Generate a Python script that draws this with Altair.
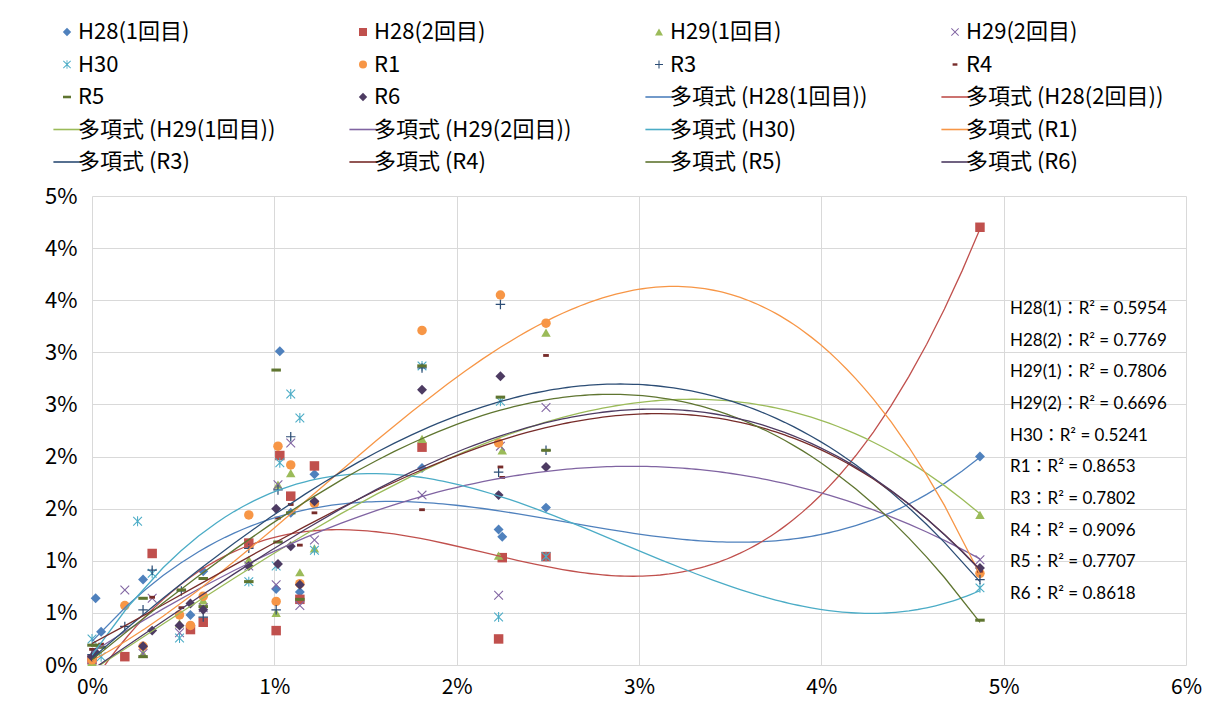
import altair as alt
import pandas as pd

# ---------------- data (values in %) ----------------
series = ["H28(1回目)", "H28(2回目)", "H29(1回目)", "H29(2回目)", "H30",
          "R1", "R3", "R4", "R5", "R6"]
colors = ["#4F81BD", "#C0504D", "#9BBB59", "#8064A2", "#4BACC6",
          "#F79646", "#2C4D75", "#772C2A", "#5F7530", "#4D3B62"]

h28_1_x = [0.00, 0.02, 0.05, 0.28, 0.54, 0.61, 1.01, 1.03, 1.09, 1.14, 1.22, 1.81, 2.23, 2.25, 2.49, 4.87]
h28_1_y = [0.05, 0.64, 0.32, 0.82, 0.48, 0.90, 0.73, 3.01, 1.46, 0.70, 1.83, 1.89, 1.30, 1.23, 1.51, 2.00]

h28_2_x = [0.00, 0.18, 0.33, 0.54, 0.61, 0.86, 1.01, 1.03, 1.09, 1.14, 1.22, 1.81, 2.23, 2.25, 2.49, 4.87]
h28_2_y = [0.05, 0.08, 1.07, 0.34, 0.41, 1.17, 0.33, 2.01, 1.62, 0.63, 1.91, 2.09, 0.25, 1.03, 1.04, 4.20]

h29_1_x = [0.00, 0.28, 0.48, 0.61, 0.86, 1.01, 1.02, 1.09, 1.14, 1.22, 1.81, 2.23, 2.25, 2.49, 4.87]
h29_1_y = [0.03, 0.11, 0.40, 0.62, 1.01, 0.50, 1.73, 1.84, 0.89, 1.12, 2.17, 1.05, 2.06, 3.19, 1.44]

h29_2_x = [0.00, 0.18, 0.28, 0.33, 0.48, 0.61, 0.86, 1.01, 1.02, 1.09, 1.14, 1.22, 1.81, 2.23, 2.24, 2.49, 4.87]
h29_2_y = [0.05, 0.72, 0.11, 0.64, 0.31, 0.55, 0.95, 0.77, 1.73, 2.13, 0.57, 1.20, 1.63, 0.67, 2.10, 2.47, 1.01]

h30_x = [0.00, 0.05, 0.25, 0.33, 0.48, 0.86, 1.01, 1.03, 1.09, 1.14, 1.22, 1.81, 2.23, 2.24, 2.49, 4.87]
h30_y = [0.25, 0.08, 1.38, 0.88, 0.26, 0.80, 0.95, 1.94, 2.60, 2.37, 1.10, 2.87, 0.46, 2.53, 1.04, 0.74]

r1_x = [0.00, 0.18, 0.28, 0.48, 0.54, 0.61, 0.86, 1.01, 1.02, 1.09, 1.14, 1.22, 1.81, 2.23, 2.24, 2.49, 4.87]
r1_y = [0.05, 0.57, 0.18, 0.48, 0.38, 0.66, 1.44, 0.61, 2.10, 1.92, 0.78, 1.55, 3.21, 2.13, 3.55, 3.28, 0.88]

r3_x = [0.00, 0.18, 0.28, 0.33, 0.49, 0.61, 0.86, 1.01, 1.02, 1.09, 1.81, 2.23, 2.24, 2.49, 4.87]
r3_y = [0.10, 0.37, 0.53, 0.91, 0.71, 0.46, 1.12, 0.53, 1.68, 2.19, 2.85, 1.85, 3.46, 2.06, 0.82]

r4_x = [0.00, 0.05, 0.33, 0.49, 1.02, 1.09, 1.14, 1.22, 1.81, 2.24, 2.25, 2.49, 4.87]
r4_y = [0.15, 0.20, 0.65, 0.55, 1.41, 1.54, 1.15, 1.46, 1.49, 1.90, 1.80, 2.97, 0.90]

r5_x = [0.00, 0.02, 0.05, 0.28, 0.28, 0.49, 0.61, 0.61, 0.86, 1.01, 1.02, 1.09, 1.14, 1.81, 2.24, 2.49, 4.87]
r5_y = [0.19, 0.19, 0.17, 0.64, 0.08, 0.72, 0.83, 0.56, 0.80, 2.83, 1.18, 1.46, 0.63, 2.87, 2.57, 2.06, 0.43]

r6_x = [0.00, 0.02, 0.28, 0.33, 0.48, 0.54, 0.61, 0.86, 1.01, 1.02, 1.09, 1.14, 1.22, 1.81, 2.23, 2.24, 2.49, 4.87]
r6_y = [0.08, 0.12, 0.18, 0.33, 0.38, 0.59, 0.53, 0.95, 1.50, 0.97, 1.14, 0.77, 1.57, 2.64, 1.63, 2.77, 1.90, 0.93]

r2_labels = ["H28(1)：R² = 0.5954", "H28(2)：R² = 0.7769", "H29(1)：R² = 0.7806",
             "H29(2)：R² =  0.6696", "H30：R² = 0.5241", "R1：R² = 0.8653",
             "R3：R² = 0.7802", "R4：R² = 0.9096", "R5：R² = 0.7707", "R6：R² = 0.8618"]

x_ticks = [0, 1, 2, 3, 4, 5, 6]
y_ticks = [0, 0.5, 1, 1.5, 2, 2.5, 3, 3.5, 4, 4.5]

# ---------------- table ----------------
xs = [h28_1_x, h28_2_x, h29_1_x, h29_2_x, h30_x, r1_x, r3_x, r4_x, r5_x, r6_x]
ys = [h28_1_y, h28_2_y, h29_1_y, h29_2_y, h30_y, r1_y, r3_y, r4_y, r5_y, r6_y]
rows = []
for name, xv, yv in zip(series, xs, ys):
    for a, b in zip(xv, yv):
        rows.append({"name": name, "x": a, "y": b})
df = pd.DataFrame(rows)

trend_names = [f"多項式 ({s})" for s in series]
entries = series + trend_names

DIAMOND = "M0,-1.05L1.05,0L0,1.05L-1.05,0Z"
XMARK = "M-1,-0.84L-0.84,-1L0,-0.16L0.84,-1L1,-0.84L0.16,0L1,0.84L0.84,1L0,0.16L-0.84,1L-1,0.84L-0.16,0Z"
ASTER = XMARK + "M-0.11,-1.05H0.11V1.05H-0.11Z"
PLUS = "M-1,-0.13H-0.13V-1H0.13V-0.13H1V0.13H0.13V1H-0.13V0.13H-1Z"
DASH_S = "M-0.6,-0.3H0.6V0.3H-0.6Z"
DASH_L = "M-1,-0.32H1V0.32H-1Z"
LINE = "M-3.4,-0.2H3.4V0.2H-3.4Z"
entry_shapes = [DIAMOND, "square", "triangle-up", XMARK, ASTER, "circle", PLUS,
                DASH_S, DASH_L, DIAMOND] + [LINE] * 10
entry_colors = colors + colors

# legend fills column by column: reorder so it reads row by row (4 columns)
NCOL, NROW = 4, 5
order = [r * NCOL + c for c in range(NCOL) for r in range(NROW)]
domain = [entries[i] for i in order]
color_range = [entry_colors[i] for i in order]
shape_range = [entry_shapes[i] for i in order]

FONT = "Noto Sans CJK JP, sans-serif"

legend = alt.Legend(title=None, orient="none", legendX=-36, legendY=-175,
                    columns=NCOL, gridAlign="all", columnPadding=73, rowPadding=10.5,
                    symbolSize=64, symbolStrokeWidth=0, labelFont=FONT,
                    labelFontSize=22, labelColor="#000000", labelOffset=0,
                    padding=0, labelLimit=400)

color_scale = alt.Scale(domain=domain, range=color_range)
shape_scale = alt.Scale(domain=domain, range=shape_range)

x_enc = alt.X("x:Q", scale=alt.Scale(domain=[0, 6], nice=False),
              axis=alt.Axis(values=x_ticks, labelExpr="datum.value + '%'",
                            title=None, labelPadding=11, labelFlush=False,
                            labelFontSize=21))
y_enc = alt.Y("y:Q", scale=alt.Scale(domain=[0, 4.5], nice=False),
              axis=alt.Axis(values=y_ticks, labelExpr="round(datum.value) + '%'",
                            title=None, labelPadding=15))

points = alt.Chart(df).mark_point(filled=True, size=90, opacity=1).encode(
    x=x_enc, y=y_enc,
    color=alt.Color("name:N", scale=color_scale, legend=legend),
    shape=alt.Shape("name:N", scale=shape_scale, legend=legend),
)

lines = alt.Chart(df).transform_regression(
    "x", "y", method="poly", order=3, groupby=["name"]
).transform_calculate(
    name="'多項式 (' + datum.name + ')'"
).mark_line(strokeWidth=1.3, clip=True).encode(
    x=x_enc, y=y_enc,
    color=alt.Color("name:N", scale=color_scale, legend=legend),
)

r2 = alt.Chart(pd.DataFrame({"label": r2_labels})).mark_text(
    align="left", baseline="middle", font="Lato, Noto Sans CJK JP",
    fontSize=17, color="#000000"
).encode(
    x=alt.value(918),
    y=alt.Y("label:N", sort=r2_labels,
            scale=alt.Scale(type="point", range=[113, 398], padding=0), axis=None),
    text="label:N",
)

chart = alt.layer(alt.layer(points, lines), r2).resolve_scale(
    y="independent"
).properties(
    width=1094, height=469,
    padding={"left": 84, "top": 188, "right": 19, "bottom": 33},
    autosize=alt.AutoSizeParams(type="none"),
).configure_view(stroke=None).configure_axis(
    grid=True, gridColor="#D9D9D9", gridWidth=1, domain=False, ticks=False,
    labelFont=FONT, labelFontSize=22, labelColor="#000000"
)

chart.save("out.html", embed_options={"renderer": "svg", "actions": False})
